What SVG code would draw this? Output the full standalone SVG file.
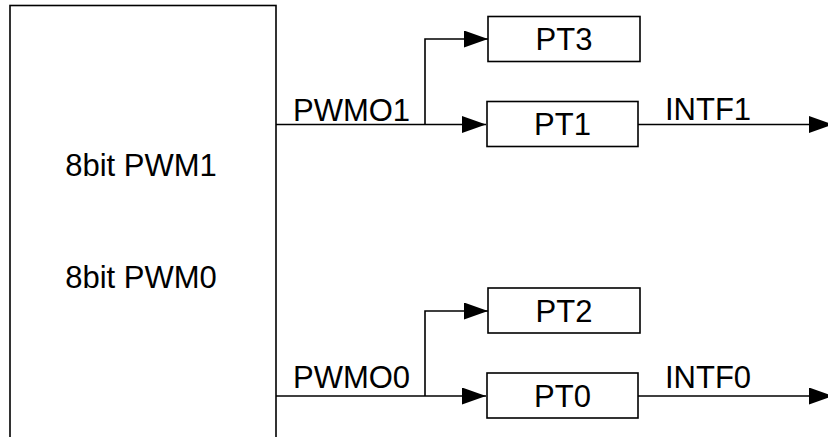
<svg xmlns="http://www.w3.org/2000/svg" width="828" height="437" viewBox="0 0 828 437">
<style>
.box{fill:#fff;stroke:#000;stroke-width:1.6}
.ln{fill:none;stroke:#000;stroke-width:1.6}
.t{font-family:"Liberation Sans",Arial,sans-serif;font-size:31px;fill:#000}
</style>
<defs>
<marker id="ah" markerUnits="userSpaceOnUse" markerWidth="26" markerHeight="18" refX="24" refY="8.5" orient="auto">
<path d="M0,0 L24,8.5 L0,17 Z" fill="#000"/>
</marker>
</defs>
<rect width="828" height="437" fill="#fff"/>
<g id="pwm">
<rect class="box" x="10" y="5.5" width="266" height="445"/>
<text class="t" x="141" y="176" text-anchor="middle">8bit PWM1</text>
<text class="t" x="141" y="288" text-anchor="middle">8bit PWM0</text>
</g>
<g id="connectors">
<path class="ln" d="M276,124.5 H486" marker-end="url(#ah)"/>
<path class="ln" d="M425,124.5 V39 H488" marker-end="url(#ah)"/>
<path class="ln" d="M638,124.5 H833" marker-end="url(#ah)"/>
<path class="ln" d="M276,396 H486" marker-end="url(#ah)"/>
<path class="ln" d="M425,396 V311 H488" marker-end="url(#ah)"/>
<path class="ln" d="M638,396 H833" marker-end="url(#ah)"/>
<text class="t" x="293" y="121">PWMO1</text>
<text class="t" x="665" y="120">INTF1</text>
<text class="t" x="293" y="388">PWMO0</text>
<text class="t" x="665" y="388">INTF0</text>
</g>
<g id="pt3">
<rect class="box" x="488" y="16.5" width="152" height="45"/>
<text class="t" x="564" y="50" text-anchor="middle">PT3</text>
</g>
<g id="pt1">
<rect class="box" x="487" y="101.5" width="151" height="45"/>
<text class="t" x="562.5" y="135" text-anchor="middle">PT1</text>
</g>
<g id="pt2">
<rect class="box" x="488" y="288" width="152" height="45"/>
<text class="t" x="564" y="321.5" text-anchor="middle">PT2</text>
</g>
<g id="pt0">
<rect class="box" x="487" y="373" width="151" height="45"/>
<text class="t" x="562.5" y="406.5" text-anchor="middle">PT0</text>
</g>
</svg>
